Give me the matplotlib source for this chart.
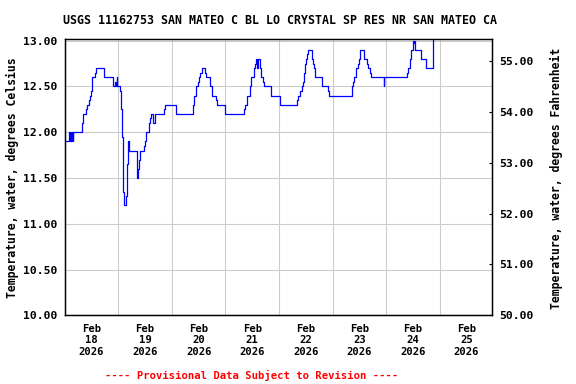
import datetime as dt

import matplotlib
matplotlib.use('Agg')
import matplotlib.pyplot as plt
import matplotlib.dates as mdates

# hours since Feb 18 2026 00:00 and water temperature, deg C
hours = [0.25, 2.1, 2.4, 2.7, 3.0, 3.3, 3.6, 3.9, 7.6, 8.05, 9.4, 9.8, 10.7, 11.2, 11.8, 12.1,
         13.7, 14.2, 17.7, 21.8, 22.7, 23.0, 23.3, 23.6, 24.9, 25.3, 25.8, 26.2, 26.7, 27.3,
         27.7, 28.2, 28.5, 28.6, 32.2, 32.5, 32.8, 33.4, 33.8, 35.5, 36.1, 36.5, 37.9, 38.3,
         38.6, 39.7, 40.6, 44.6, 45.0, 49.9, 57.3, 57.7, 58.1, 59.0, 59.5, 60.1, 60.7, 61.6,
         62.9, 63.4, 65.2, 66.1, 67.7, 68.3, 71.9, 80.4, 80.8, 81.7, 83.2, 83.6, 84.8, 85.3,
         85.7, 86.2, 86.5, 87.5, 88.0, 88.9, 89.3, 92.6, 96.6, 104.1, 104.7, 105.6, 106.2,
         106.6, 107.1, 107.5, 107.9, 108.4, 109.0, 110.8, 111.2, 111.7, 112.1, 115.3, 117.8,
         118.4, 128.7, 129.3, 129.7, 130.6, 131.4, 131.8, 132.4, 134.3, 135.4, 136.0, 136.6,
         137.2, 143.0, 143.2, 153.3, 153.7, 154.5, 155.2, 156.0, 156.3, 156.6, 156.9, 159.7,
         161.8, 164.9]
temp_c = [11.90, 12.00, 11.90, 12.00, 11.90, 12.00, 11.90, 12.00, 12.10, 12.20, 12.25, 12.30,
          12.35, 12.40, 12.45, 12.60, 12.65, 12.70, 12.60, 12.50, 12.55, 12.50, 12.60, 12.50,
          12.45, 12.25, 11.95, 11.35, 11.20, 11.30, 11.65, 11.85, 11.90, 11.80, 11.65, 11.50,
          11.60, 11.70, 11.80, 11.85, 11.90, 12.00, 12.10, 12.15, 12.20, 12.10, 12.20, 12.25,
          12.30, 12.20, 12.30, 12.35, 12.40, 12.50, 12.55, 12.60, 12.65, 12.70, 12.65, 12.60,
          12.50, 12.40, 12.35, 12.30, 12.20, 12.25, 12.30, 12.40, 12.50, 12.60, 12.70, 12.75,
          12.80, 12.70, 12.80, 12.70, 12.60, 12.55, 12.50, 12.40, 12.30, 12.35, 12.40, 12.45,
          12.50, 12.55, 12.65, 12.75, 12.80, 12.85, 12.90, 12.80, 12.75, 12.70, 12.60, 12.50,
          12.45, 12.40, 12.50, 12.55, 12.60, 12.70, 12.75, 12.80, 12.90, 12.80, 12.75, 12.70,
          12.65, 12.60, 12.50, 12.60, 12.65, 12.70, 12.80, 12.90, 13.00, 12.97, 13.00, 12.90,
          12.80, 12.70, 13.10]

celsius_ticks = [10.0, 10.5, 11.0, 11.5, 12.0, 12.5, 13.0]
fahrenheit_ticks = [50, 51, 52, 53, 54, 55]

title = "USGS 11162753 SAN MATEO C BL LO CRYSTAL SP RES NR SAN MATEO CA"
start = dt.datetime(2026, 2, 18)
times = [start + dt.timedelta(hours=h) for h in hours]

mono = 'DejaVu Sans Mono'
W, H = 576, 384

fig = plt.figure(figsize=(W / 100, H / 100), dpi=100)
left, right, top, bottom = 65.3, 492.3, 39.3, 315.3
ax = fig.add_axes([left / W, 1 - bottom / H, (right - left) / W, (bottom - top) / H])

ax.plot(times, temp_c, color='#0000ff', lw=0.9, drawstyle='steps-post', clip_on=True)

ax.set_xlim(start + dt.timedelta(minutes=15), start + dt.timedelta(days=7, hours=23, minutes=35))
y_top = 13.015
ax.set_ylim(10.0, y_top)

# midnight gridlines, labels at noon
ax.xaxis.set_major_locator(mdates.DayLocator())
ax.xaxis.set_major_formatter(plt.NullFormatter())
ax.xaxis.set_minor_locator(mdates.HourLocator(byhour=[12]))
ax.xaxis.set_minor_formatter(mdates.DateFormatter('%b\n%d\n%Y'))
ax.tick_params(axis='x', which='both', length=0)
ax.tick_params(axis='x', which='minor', pad=6)
for lab in ax.get_xticklabels(minor=True):
    lab.set_fontfamily(mono)
    lab.set_fontweight('bold')
    lab.set_fontsize(7.6)
    lab.set_linespacing(1.2)

ax.set_yticks(celsius_ticks)
ax.set_yticklabels(['%.2f' % v for v in celsius_ticks], family=mono, weight='bold', size=8.2)
ax.tick_params(axis='y', length=0, pad=6)

ax.grid(True, which='major', color='#cccccc', lw=0.8)
ax.set_axisbelow(True)
for s in ax.spines.values():
    s.set_color('black')
    s.set_linewidth(1.0)

ax2 = ax.twinx()
ax2.set_ylim(10.0 * 9 / 5 + 32, y_top * 9 / 5 + 32)
ax2.set_yticks(fahrenheit_ticks)
ax2.set_yticklabels(['%.2f' % v for v in fahrenheit_ticks], family=mono, weight='bold', size=8.2)
ax2.tick_params(axis='y', direction='in', length=2.5, width=0.8, pad=5)

fig.text(12 / W, 1 - 178 / H, 'Temperature, water, degrees Celsius', rotation=90,
         ha='center', va='center', family=mono, weight='bold', size=8.3)
fig.text(556 / W, 1 - 178 / H, 'Temperature, water, degrees Fahrenheit', rotation=90,
         ha='center', va='center', family=mono, weight='bold', size=8.3)

fig.text(280 / W, 1 - 20 / H, title, ha='center', va='center', family=mono, weight='bold', size=8.4)
fig.text(252 / W, 1 - 375 / H, '---- Provisional Data Subject to Revision ----',
         ha='center', va='center', family=mono, weight='bold', size=7.6, color='red')

fig.savefig('out.png', dpi=100)
